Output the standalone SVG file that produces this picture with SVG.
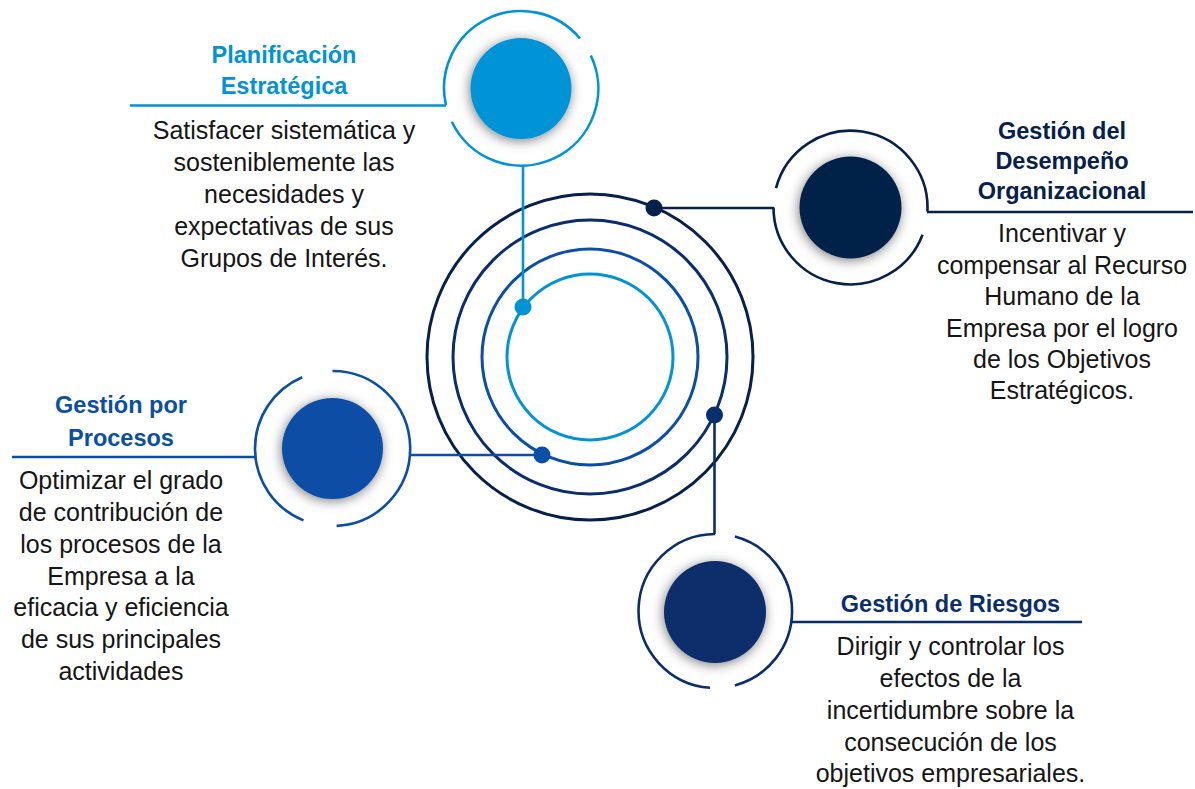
<svg xmlns="http://www.w3.org/2000/svg" width="1195" height="789" viewBox="0 0 1195 789">
<defs>
<filter id="sh" x="-40%" y="-40%" width="180%" height="180%">
<feDropShadow dx="-1" dy="2" stdDeviation="6" flood-color="#000" flood-opacity="0.5"/>
</filter>
</defs>
<style>
.ring{fill:none;stroke-width:2.6}
.orbit{fill:none;stroke-width:3}
.ln{fill:none;stroke-width:2.6}
.t{font-family:"Liberation Sans",Arial,sans-serif;font-weight:bold;font-size:23.5px;text-anchor:middle}
.b{font-family:"Liberation Sans",Arial,sans-serif;font-size:25px;fill:#151515;text-anchor:middle}
.c1{stroke:#0093d6}.c2{stroke:#0a4ea6}.c3{stroke:#0a2d6b}.c4{stroke:#05204a}
</style>
<rect width="1195" height="789" fill="#fff"/>
<g id="center">
<circle class="orbit c4" cx="590" cy="357" r="163"/>
<circle class="orbit c3" cx="590" cy="357" r="137"/>
<circle class="orbit c2" cx="590" cy="357" r="108"/>
<circle class="orbit c1" cx="590" cy="357" r="83"/>
</g>
<g id="connectors">
<path class="ln c1" d="M130,105.5 H446 M523,165 V307"/>
<path class="ln c4" d="M654,208 H774 M927,212 H1193"/>
<path class="ln c2" d="M12,457 H256 M409,455 H542"/>
<path class="ln c3" d="M714.5,415 V534 M791,622 H1082"/>
<circle cx="523" cy="307" r="8.5" fill="#0093d6"/>
<circle cx="654" cy="208" r="8.5" fill="#05204a"/>
<circle cx="542" cy="455" r="8.5" fill="#0a4ea6"/>
<circle cx="714.5" cy="415" r="8.5" fill="#0a2d6b"/>
</g>
<g id="planificacion">
<path class="ring c1" d="M446,105.3 A77,77 0 0 1 580,38.5 M590.8,55.5 A77,77 0 0 1 451.8,121.8"/>
<circle cx="521" cy="88.5" r="50.5" fill="#0093d6" filter="url(#sh)"/>
<text class="t" fill="#0093d6" x="284" y="63">Planificación</text>
<text class="t" fill="#0093d6" x="284" y="94">Estratégica</text>
<text class="b" x="284" y="139">Satisfacer sistemática y</text>
<text class="b" x="284" y="171">sosteniblemente las</text>
<text class="b" x="284" y="203">necesidades y</text>
<text class="b" x="284" y="235">expectativas de sus</text>
<text class="b" x="284" y="267">Grupos de Interés.</text>
</g>
<g id="desempeno">
<path class="ring c4" d="M776,188.2 A77,77 0 0 1 927.4,211.5 M922.5,234.7 A77,77 0 0 1 773.5,207.5"/>
<circle cx="850.5" cy="207.5" r="51" fill="#05204a" filter="url(#sh)"/>
<text class="t" fill="#05204a" x="1062" y="139">Gestión del</text>
<text class="t" fill="#05204a" x="1062" y="169">Desempeño</text>
<text class="t" fill="#05204a" x="1062" y="199">Organizacional</text>
<text class="b" x="1062" y="242">Incentivar y</text>
<text class="b" x="1062" y="273.5">compensar al Recurso</text>
<text class="b" x="1062" y="305">Humano de la</text>
<text class="b" x="1062" y="336.5">Empresa por el logro</text>
<text class="b" x="1062" y="368">de los Objetivos</text>
<text class="b" x="1062" y="399">Estratégicos.</text>
</g>
<g id="procesos">
<path class="ring c2" d="M332.5,371 A77.5,77.5 0 0 1 336.6,525.9 M303.5,520.4 A77.5,77.5 0 0 1 302.2,377.2"/>
<circle cx="332.5" cy="448.5" r="50.5" fill="#0a4ea6" filter="url(#sh)"/>
<text class="t" fill="#0a4ea6" x="121" y="413">Gestión por</text>
<text class="t" fill="#0a4ea6" x="121" y="446">Procesos</text>
<text class="b" x="121" y="489">Optimizar el grado</text>
<text class="b" x="121" y="521">de contribución de</text>
<text class="b" x="121" y="553">los procesos de la</text>
<text class="b" x="121" y="584.5">Empresa a la</text>
<text class="b" x="121" y="616">eficacia y eficiencia</text>
<text class="b" x="121" y="648">de sus principales</text>
<text class="b" x="121" y="680">actividades</text>
</g>
<g id="riesgos">
<path class="ring c3" d="M710,687.8 A77,77 0 0 1 715,534 M734.9,536.6 A77,77 0 0 1 734.9,685.4"/>
<circle cx="715" cy="612" r="51" fill="#0a2d6b" filter="url(#sh)"/>
<text class="t" fill="#0a2d6b" x="950.5" y="612">Gestión de Riesgos</text>
<text class="b" x="950.5" y="655">Dirigir y controlar los</text>
<text class="b" x="950.5" y="687">efectos de la</text>
<text class="b" x="950.5" y="719">incertidumbre sobre la</text>
<text class="b" x="950.5" y="751">consecución de los</text>
<text class="b" x="950.5" y="782">objetivos empresariales.</text>
</g>
</svg>
